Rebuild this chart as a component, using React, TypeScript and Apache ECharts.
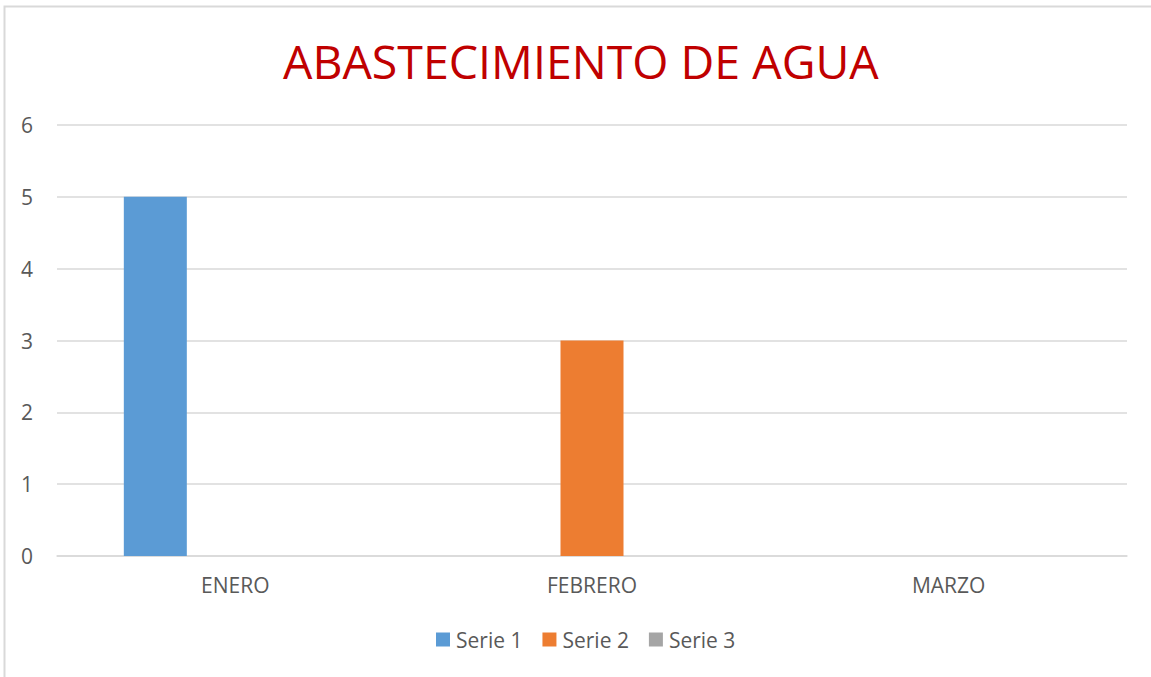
import React, { useEffect, useRef } from "react";
import * as echarts from "echarts";

const categories = ["ENERO", "FEBRERO", "MARZO"];
const serie1 = [5, 0, 0];
const serie2 = [0, 3, 0];
const serie3 = [0, 0, 0];
const seriesNames = ["Serie 1", "Serie 2", "Serie 3"];
const titleText = "ABASTECIMIENTO DE AGUA";

const FONT = "'Open Sans', 'Noto Sans', sans-serif";

export default function App() {
  const ref = useRef<HTMLDivElement>(null);
  useEffect(() => {
    document.body.style.margin = "0";
    if (!ref.current) return;
    const chart = echarts.init(ref.current, null, { renderer: "svg" });
    const values = [serie1, serie2, serie3];
    const colors = ["#5B9BD5", "#ED7D31", "#A5A5A5"];
    chart.setOption({
      animation: false,
      backgroundColor: "#ffffff",
      title: {
        text: titleText,
        left: 278,
        top: 32,
        textStyle: { color: "#C00000", fontSize: 46.5, fontWeight: "normal", fontFamily: FONT },
      },
      graphic: [
        {
          type: "rect",
          shape: { x: 4.5, y: 6.5, width: 1200, height: 800 },
          style: { fill: "none", stroke: "#D9D9D9", lineWidth: 2 },
          silent: true,
        },
      ],
      legend: {
        bottom: 22,
        left: 431,
        icon: "rect",
        itemWidth: 14,
        itemHeight: 14,
        itemGap: 20,
        textStyle: { color: "#595959", fontSize: 21, fontFamily: FONT, padding: [0, 0, 0, 1] },
        data: seriesNames,
      },
      grid: { left: 57, right: 24, top: 125, bottom: 121, containLabel: false },
      xAxis: {
        type: "category",
        data: categories,
        axisLine: { lineStyle: { color: "#D9D9D9", width: 1.5 } },
        axisTick: { show: false },
        axisLabel: { color: "#595959", fontSize: 21, fontFamily: FONT, margin: 18 },
      },
      yAxis: {
        type: "value",
        min: 0,
        max: 6,
        interval: 1,
        axisLine: { show: false },
        axisTick: { show: false },
        splitLine: { lineStyle: { color: "#D9D9D9", width: 1.5 } },
        axisLabel: { color: "#595959", fontSize: 21, fontFamily: FONT, margin: 24 },
      },
      series: seriesNames.map((name, i) => ({
        name,
        type: "bar",
        data: values[i],
        barWidth: 63,
        barGap: "27%",
        itemStyle: { color: colors[i] },
      })),
    });
    return () => chart.dispose();
  }, []);
  return <div ref={ref} style={{ width: 1151, height: 677 }} />;
}
